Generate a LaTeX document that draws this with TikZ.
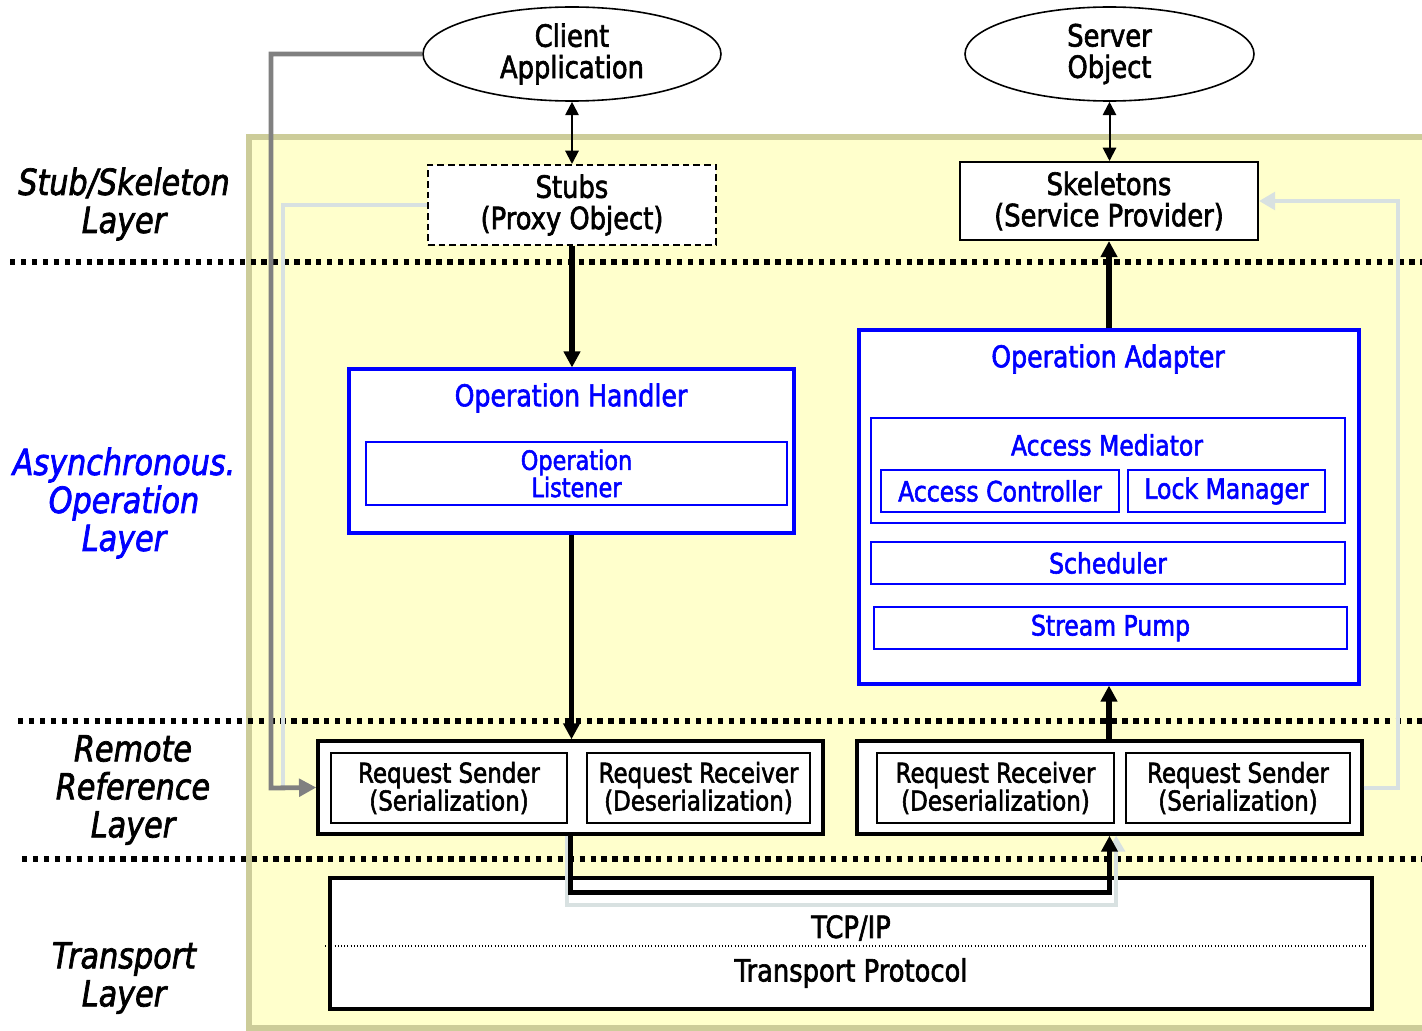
\documentclass[tikz,border=0pt]{standalone}
\usepackage{fontspec}
\setmainfont[FakeStretch=0.84,FakeBold=2]{DejaVu Sans}
\usetikzlibrary{arrows.meta,shapes.geometric}
\definecolor{bgfill}{RGB}{255,255,204}
\definecolor{bgline}{RGB}{204,204,153}
\definecolor{grayc}{RGB}{128,128,128}
\definecolor{lightc}{RGB}{216,225,225}
\definecolor{blu}{RGB}{0,0,255}
\tikzset{
  txtA/.style={font={\fontsize{23}{23.5}\selectfont}, align=center},
  ttl/.style={font={\fontsize{22.5}{25}\selectfont}, text=blu},
  subf/.style={font={\fontsize{21}{21}\selectfont}, text=blu, align=center},
  subL/.style={font={\fontsize{20}{17}\selectfont}, text=blu, align=center},
  reqf/.style={font={\fontsize{20.5}{17}\selectfont}, align=center},
  lay/.style={font={\fontsize{27}{28.5}\selectfont\itshape}, align=center},
  bx/.style={draw, fill=white, line width=1.5pt, inner sep=0pt},
  bbx/.style={draw=blu, fill=white, line width=2.3pt, inner sep=0pt},
  bbi/.style={draw=blu, fill=white, line width=1.4pt, inner sep=0pt},
  rbx/.style={draw, fill=white, line width=2.5pt, inner sep=0pt},
  rbi/.style={draw, fill=white, line width=1.4pt, inner sep=0pt},
  ell/.style={ellipse, draw, fill=white, line width=1.2pt, inner sep=0pt, minimum height=70.5pt},
  sepline/.style={line width=4pt, dash pattern=on 4pt off 4.2pt},
  thinarrow/.style={line width=1.5pt, {Triangle[length=10pt,width=10pt]}-{Triangle[length=10pt,width=10pt]}},
  bigarrow/.style={line width=4pt, -{Triangle[length=12pt,width=12pt]}},
  grayline/.style={draw=grayc, line width=3.6pt, -{Triangle[length=13pt,width=13pt]}},
  lightline/.style={draw=lightc, line width=3pt},
  lightarrow/.style={draw=lightc, line width=3pt, -{Triangle[length=12pt,width=13pt]}}
}
\begin{document}
\begin{tikzpicture}[x=0.75pt,y=-0.75pt]
\useasboundingbox (0,0) rectangle (1422,1031);
% background panel
\fill[bgfill] (249,137) rectangle (1440,1028);
\draw[bgline, line width=5pt] (1440,137) -- (249,137) -- (249,1028) -- (1440,1028);
% layer separators
\draw[sepline] (10,262) -- (1422,262);
\draw[sepline] (18,721) -- (1422,721);
\draw[sepline] (22,859) -- (1422,859);
% layer labels
\node[lay] (l1) at (124,204) {Stub/Skeleton\\Layer};
\node[lay, text=blu] (l2) at (124,503) {Asynchronous.\\Operation\\Layer};
\node[lay] (l3) at (133,790) {Remote\\Reference\\Layer};
\node[lay] (l4) at (124,978) {Transport\\Layer};
% top objects
\node[ell, minimum width=223.5pt, txtA] (cli) at (572,54) {Client\\Application};
\node[ell, minimum width=216.75pt, txtA] (srv) at (1109.5,54) {Server\\Object};
\node[bx, dashed, dash pattern=on 5pt off 3pt, minimum width=216pt, minimum height=60pt, txtA] (stubs) at (572,205) {Stubs\\(Proxy Object)};
\node[bx, minimum width=223.5pt, minimum height=58.5pt, txtA] (skel) at (1109,201) {Skeletons\\(Service Provider)};
% operation handler
\node[bbx, minimum width=333.75pt, minimum height=123pt] (oh) at (571.5,451) {};
\node[ttl] (ohT) at (571,398) {Operation Handler};
\node[bbi, minimum width=315.75pt, minimum height=47.25pt, subL] (ol) at (576.5,473.5) {Operation\\Listener};
% operation adapter
\node[bbx, minimum width=375pt, minimum height=265.5pt] (oa) at (1109,507) {};
\node[ttl] (oaT) at (1108,359) {Operation Adapter};
\node[bbi, minimum width=355.5pt, minimum height=78.75pt] (am) at (1108,470.5) {};
\node[subf] (amT) at (1107,445) {Access Mediator};
\node[bbi, minimum width=178.5pt, minimum height=31.5pt, subf] (ac) at (1000,491) {Access Controller};
\node[bbi, minimum width=147.75pt, minimum height=31.5pt, subf] (lm) at (1226.5,491) {Lock Manager};
\node[bbi, minimum width=355.5pt, minimum height=31.5pt, subf] (sch) at (1108,563) {Scheduler};
\node[bbi, minimum width=354.75pt, minimum height=31.5pt, subf] (sp) at (1110.5,628) {Stream Pump};
% remote reference layer
\node[rbx, minimum width=378.75pt, minimum height=69.75pt] (rrl) at (570.5,787.5) {};
\node[rbi, minimum width=177pt, minimum height=52.5pt, reqf] (rs1) at (449,788) {Request Sender\\(Serialization)};
\node[rbi, minimum width=167.25pt, minimum height=52.5pt, reqf] (rr1) at (698.5,788) {Request Receiver\\(Deserialization)};
\node[rbx, minimum width=378.75pt, minimum height=69.75pt] (rrr) at (1109.5,787.5) {};
\node[rbi, minimum width=177.75pt, minimum height=52.5pt, reqf] (rr2) at (995.5,788) {Request Receiver\\(Deserialization)};
\node[rbi, minimum width=168pt, minimum height=52.5pt, reqf] (rs2) at (1238,788) {Request Sender\\(Serialization)};
% transport
\node[rbx, minimum width=781.5pt, minimum height=98.25pt] (tp) at (851,943.5) {};
\coordinate (tdl) at (325,946);
\coordinate (tdr) at (1368,946);
\draw[line width=0.9pt, dash pattern=on 0.8pt off 1.6pt] (tdl) -- (tdr);
\node[txtA] (tcp) at (851,928) {TCP/IP};
\node[txtA] (tpp) at (851,973) {Transport Protocol};
% connectors
\draw[thinarrow] (cli.south) -- (stubs.north);
\draw[thinarrow] (srv.south) -- (srv.south |- skel.north);
\draw[bigarrow] (stubs.south) -- (stubs.south |- oh.north);
\draw[bigarrow] (oh.south) -- (oh.south |- rrl.north);
\draw[bigarrow] (rrr.north -| oa.south) -- (oa.south);
\draw[bigarrow] (oa.north) -- (oa.north |- skel.south);
% side connectors
\coordinate (lj) at (283,786);
\draw[lightline] (stubs.west) -| (lj);
\coordinate (gj) at (271,788);
\draw[grayline] (cli.west) -| (gj) -- (rrl.west);
\coordinate (rk) at (1398,201);
\draw[lightarrow] (rrr.east) -| (rk) -- (skel.east);
% bottom connectors
\draw[lightarrow] ([xshift=-3pt]rrl.south) -- ++(0,69) -| ([xshift=5pt]rrr.south);
\draw[bigarrow] (rrl.south) -- ++(0,57) -| (rrr.south);
\end{tikzpicture}
\end{document}
